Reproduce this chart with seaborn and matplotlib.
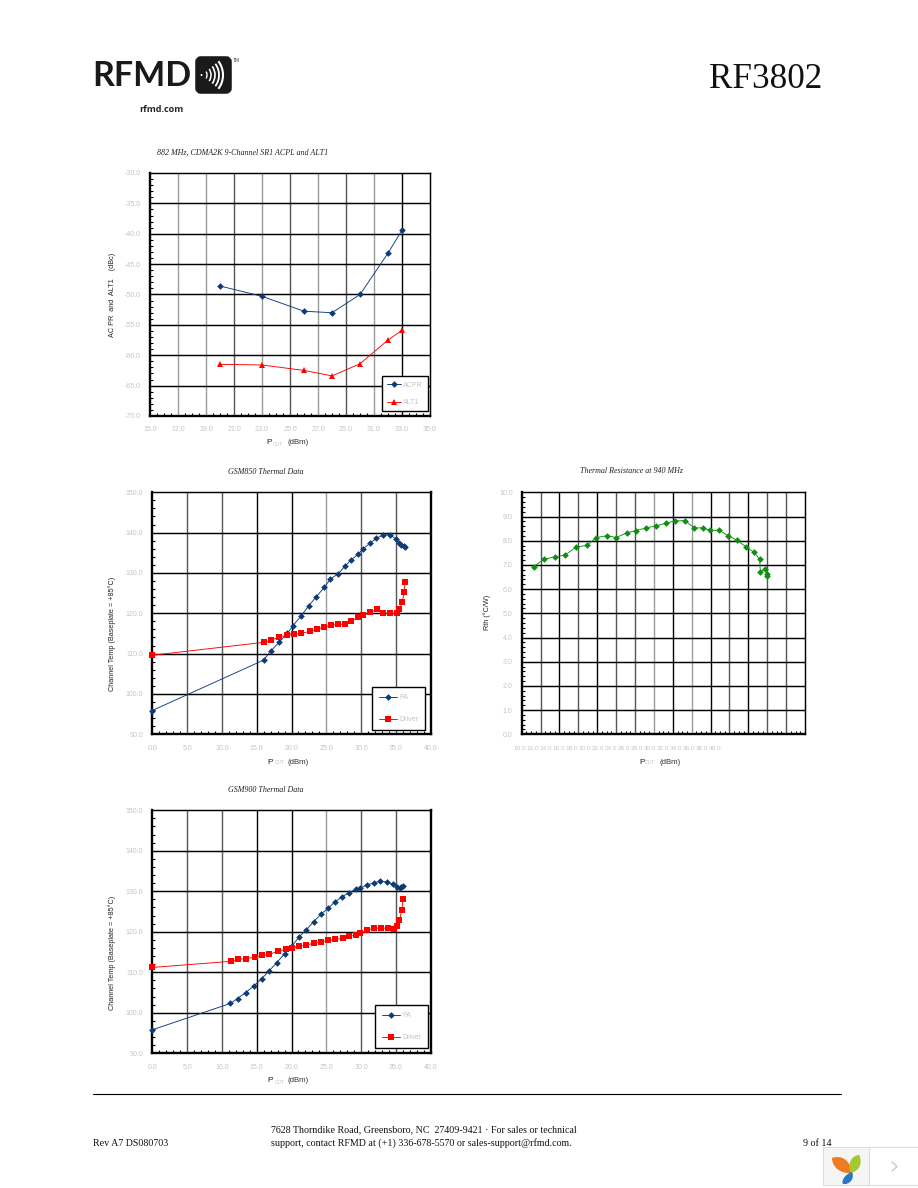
import numpy as np
import pandas as pd
import matplotlib
matplotlib.use("Agg")
import matplotlib.pyplot as plt
import seaborn as sns
from matplotlib.patches import FancyBboxPatch, Rectangle, PathPatch, Arc, Circle
from matplotlib.path import Path

W, H = 918, 1188

# ---- data ----
acp_x = [20, 23, 26, 28, 30, 32, 33]
acpr_y = [-48.6, -50.3, -52.75, -53.0, -50.0, -43.2, -39.4]
alt1_y = [-61.5, -61.6, -62.5, -63.4, -61.4, -57.5, -55.9]

g850_pa_x = [0, 16.0, 17.05, 18.2, 19.4, 20.2, 21.4, 22.5, 23.5, 24.7, 25.6, 26.7, 27.7, 28.6, 29.6,
             30.3, 31.3, 32.2, 33.2, 34.2, 35.0, 35.5, 35.8, 36.1, 36.3]
g850_pa_y = [95.9, 108.4, 110.7, 112.8, 115, 116.9, 119.4, 121.9, 124, 126.4, 128.5, 129.8, 131.7, 133.3, 134.7,
             136, 137.4, 138.6, 139.4, 139.5, 138.4, 137.4, 136.9, 136.6, 136.4]
g850_dr_x = [0, 16, 17.1, 18.25, 19.4, 20.3, 21.4, 22.6, 23.6, 24.7, 25.7, 26.7, 27.7, 28.6, 29.6,
             30.3, 31.3, 32.3, 33.2, 34.2, 35.1, 35.5, 35.9, 36.2, 36.3]
g850_dr_y = [109.6, 112.8, 113.3, 114.2, 114.5, 114.8, 115, 115.5, 116, 116.6, 117, 117.3, 117.3, 118, 119,
             119.5, 120.2, 121, 120, 120, 120, 121, 122.7, 125.2, 127.7]

rth_x = [11.27, 12.36, 13.5, 14.6, 15.75, 16.9, 17.9, 19.07, 20, 21.1, 22.1, 23.2, 24.2, 25.3, 26.2, 27.3,
         28.25, 29.2, 29.9, 30.9, 31.85, 32.8, 33.8, 34.6, 35.2, 35.27, 35.76, 35.94, 35.94]
rth_y = [6.93, 7.23, 7.33, 7.41, 7.73, 7.81, 8.13, 8.21, 8.13, 8.32, 8.42, 8.53, 8.61, 8.72, 8.82, 8.83,
         8.53, 8.53, 8.43, 8.43, 8.21, 8.02, 7.73, 7.52, 7.23, 6.72, 6.82, 6.61, 6.53]

g900_pa_x = [0, 11.2, 12.25, 13.4, 14.6, 15.7, 16.8, 17.9, 19, 20, 21.1, 22.1, 23.2, 24.2, 25.3, 26.2, 27.3, 28.2,
             29.2, 29.9, 30.8, 31.8, 32.7, 33.7, 34.6, 35.2, 35.6, 35.8, 36]
g900_pa_y = [95.8, 102.3, 103.5, 105, 106.6, 108.4, 110.4, 112.4, 114.6, 116.4, 118.7, 120.5, 122.5, 124.3, 125.9,
             127.3, 128.7, 129.6, 130.5, 130.7, 131.6, 132, 132.5, 132.3, 131.7, 131, 130.8, 131, 131.2]
g900_dr_x = [0, 11.25, 12.35, 13.5, 14.7, 15.7, 16.8, 18, 19.2, 20, 21.1, 22.1, 23.2, 24.2, 25.3, 26.3, 27.4, 28.2,
             29.2, 29.9, 30.9, 31.8, 32.8, 33.9, 34.7, 35.2, 35.5, 35.85, 36]
g900_dr_y = [111.2, 112.7, 113.2, 113.4, 113.7, 114.2, 114.4, 115.2, 115.7, 115.9, 116.4, 116.7, 117.2, 117.5, 117.9,
             118.1, 118.4, 118.9, 119.1, 119.6, 120.4, 120.9, 120.9, 120.9, 120.6, 121.4, 122.8, 125.3, 128]

rth_tick_labels = [f"{v:.1f}" for v in range(10, 42, 2)]
NAVY, RED, GREEN = "#0c3b78", "#ff0000", "#0f8f0f"
TICKC = "#c4c4c4"

sns.set_style("white")
plt.rcParams["font.family"] = ["Liberation Sans", "DejaVu Sans"]
fig = plt.figure(figsize=(W / 100, H / 100), dpi=100, facecolor="white")

page = fig.add_axes([0, 0, 1, 1], zorder=5)
page.set_xlim(0, W); page.set_ylim(H, 0); page.axis("off"); page.patch.set_alpha(0)


def make_axes(l, t, r, b):
    return fig.add_axes([l / W, 1 - b / H, (r - l) / W, (b - t) / H])


def style(ax, xlim, ylim, xmaj, ymaj, xmin, ymin, vcolors, xlabels=True):
    ax.set_xlim(*xlim); ax.set_ylim(*ylim)
    xt = np.arange(xlim[0], xlim[1] + 1e-6, xmaj)
    yt = np.arange(ylim[0], ylim[1] + 1e-6, ymaj)
    ax.set_xticks(xt); ax.set_yticks(yt)
    ax.set_xticks(np.arange(xlim[0], xlim[1] + 1e-6, xmin), minor=True)
    ax.set_yticks(np.arange(ylim[0], ylim[1] + 1e-6, ymin), minor=True)
    ax.set_xticklabels([f"{v:.1f}" for v in xt] if xlabels else [])
    ax.set_yticklabels([f"{v:.1f}" for v in yt])
    ax.tick_params(which="major", length=0, labelsize=5, labelcolor=TICKC)
    ax.tick_params(axis="x", which="major", pad=7.5)
    ax.tick_params(axis="y", which="major", pad=6.5)
    ax.tick_params(which="minor", direction="in", length=2.2, width=0.8, color="black",
                   bottom=True, left=True)
    for v, c in zip(xt[1:-1], vcolors):
        ax.axvline(v, color=c, lw=1.0, zorder=1)
    for v in yt[1:-1]:
        ax.axhline(v, color="black", lw=1.05, zorder=1)
    for s in ("top", "right"):
        ax.spines[s].set_visible(True); ax.spines[s].set_color("black"); ax.spines[s].set_linewidth(1.05)
    for s in ("left", "bottom"):
        ax.spines[s].set_visible(True); ax.spines[s].set_color("black"); ax.spines[s].set_linewidth(1.7)
    ax.set_xlabel(""); ax.set_ylabel("")


def two_series(ax, a_name, ax_vals, ay_vals, b_name, bx_vals, by_vals, marks, b_size=3.9):
    df = pd.DataFrame({
        "x": list(ax_vals) + list(bx_vals),
        "y": list(ay_vals) + list(by_vals),
        "series": [a_name] * len(ax_vals) + [b_name] * len(bx_vals)})
    sns.lineplot(data=df[df.series == a_name], x="x", y="y", color=NAVY, marker=marks[0], markersize=3.4,
                 markeredgewidth=0, linewidth=0.65, sort=False, estimator=None, ax=ax, zorder=3, label=a_name,
                 clip_on=False)
    sns.lineplot(data=df[df.series == b_name], x="x", y="y", color=RED, marker=marks[1], markersize=b_size,
                 markeredgewidth=0, linewidth=0.65, sort=False, estimator=None, ax=ax, zorder=3, label=b_name,
                 clip_on=False)


def legend(ax, left, bottom, ls=2.2, bp=1.0, hl=2.6):
    bb = ax.get_position()
    x0 = (left / W - bb.x0) / bb.width
    y0 = ((1 - bottom / H) - bb.y0) / bb.height
    leg = ax.legend(loc="lower left", bbox_to_anchor=(x0, y0), borderaxespad=0, fontsize=5,
                    labelspacing=ls, borderpad=bp, handlelength=hl, handletextpad=0.3,
                    frameon=True, fancybox=False, framealpha=1, facecolor="white", edgecolor="black")
    leg.get_frame().set_linewidth(1.0)
    leg.set_zorder(6)
    for t_ in leg.get_texts():
        t_.set_color(TICKC)


def xlab(xp, xo, xd, y):
    page.text(xp, y, "P", fontsize=6, color="#222222", ha="left", va="center")
    page.text(xo, y + 1, "OUT", fontsize=3.5, color=TICKC, ha="left", va="center")
    page.text(xd, y, "(dBm)", fontsize=5.6, color="#333333", ha="left", va="center")


def ylab(x, y, s):
    page.text(x, y, s, fontsize=5.25, color="#222222", rotation=90, ha="center", va="center")


def title(x, y, s, ha="center"):
    page.text(x, y, s, fontsize=5.8, color="#222222", style="italic", family="Liberation Serif", ha=ha, va="center")


G, D, K = "#9a9a9a", "#555555", "#000000"

# ---- chart 1 ----
ax1 = make_axes(150, 173, 430, 416)
style(ax1, (15, 35), (-70, -30), 2, 5, 0.5, 1, [G, G, D, G, D, G, D, G, K])
two_series(ax1, "ACPR", acp_x, acpr_y, "ALT1", acp_x, alt1_y, ("D", "^"))
ax1.set_xlabel(""); ax1.set_ylabel("")
legend(ax1, 381.7, 411.3, ls=1.5, bp=0.77, hl=2.06)
title(157, 153, "882 MHz, CDMA2K 9-Channel SR1 ACPL and ALT1", ha="left")
xlab(266, 273, 287, 443)
ylab(112, 295, "AC PR  and  ALT1    (dBc)")

# ---- chart 2 ----
ax2 = make_axes(152.3, 492.3, 430.7, 734.3)
style(ax2, (0, 40), (90, 150), 5, 10, 1, 2, [D, D, K, K, G, D, D])
two_series(ax2, "PA", g850_pa_x, g850_pa_y, "Driver", g850_dr_x, g850_dr_y, ("D", "s"))
ax2.set_xlabel(""); ax2.set_ylabel("")
ax2.spines["right"].set_linewidth(1.7)
legend(ax2, 372.3, 730.3)
title(266, 472, "GSM850 Thermal Data")
xlab(267, 275, 288, 762)
ylab(112, 634, "Channel Temp (Baseplate = +85\u00b0C)")

# ---- chart 3 ----
ax3 = make_axes(521.7, 492.3, 805, 734.3)
style(ax3, (10, 40), (0, 10), 2, 1, 0.5, 0.2,
      [D, K, D, K, D, D, G, K, G, K, D, K, D, D], xlabels=False)
ax3_df = pd.DataFrame({"x": rth_x, "y": rth_y})
sns.lineplot(data=ax3_df, x="x", y="y", color=GREEN, marker="D", markersize=3.4, markeredgewidth=0,
             linewidth=0.65, sort=False, estimator=None, ax=ax3, zorder=3)
ax3.set_xlabel(""); ax3.set_ylabel("")
for i, lab in enumerate(rth_tick_labels):
    page.text(470 + (150 + 39 * i) / 3, 748.5, lab, fontsize=4.6, color=TICKC, ha="center", va="center")
title(631, 471, "Thermal Resistance at 940 MHz")
xlab(639, 645, 660, 762)
ylab(487, 612, "Rth (\u00b0C/W)")

# ---- chart 4 ----
ax4 = make_axes(152.3, 810.3, 430.7, 1053.3)
style(ax4, (0, 40), (90, 150), 5, 10, 1, 2, [D, D, K, K, G, D, D])
two_series(ax4, "PA", g900_pa_x, g900_pa_y, "Driver", g900_dr_x, g900_dr_y, ("D", "s"))
ax4.set_xlabel(""); ax4.set_ylabel("")
ax4.spines["right"].set_linewidth(1.7)
legend(ax4, 375.3, 1048.3)
title(266, 790, "GSM900 Thermal Data")
xlab(267, 275, 288, 1081)
ylab(112, 953, "Channel Temp (Baseplate = +85\u00b0C)")

# ---- page furniture ----
page.text(92, 76, "RFMD", fontsize=24.5, fontweight="bold", family="Lato", color="#1a1a1a", ha="left", va="center")
page.text(139, 110, "rfmd.com", fontsize=6.6, fontweight="bold", family="Open Sans", color="#222222", ha="left", va="center")
page.add_patch(FancyBboxPatch((198, 59), 31, 32, boxstyle="round,pad=0,rounding_size=3", mutation_aspect=1,
                              fc="#1a1a1a", ec="#1a1a1a", lw=4))
page.add_patch(Circle((201.5, 75), 1.0, fc="white", ec="none"))
for r, lw in zip((5, 9, 13, 17, 21), (1, 1.1, 1.2, 1.3, 1.5)):
    page.add_patch(Arc((202, 75), 2 * r, 2 * r + 2, theta1=-40, theta2=40, color="white", lw=lw))
page.text(233, 60, "TM", fontsize=3.5, color="#444444", ha="left", va="center")
page.text(709, 79, "RF3802", fontsize=25.3, family="Liberation Serif", color="#111111", ha="left", va="center")

page.plot([93, 841], [1094, 1094], color="black", lw=0.8)
foot = dict(fontsize=7.2, family="Liberation Serif", color="#111111", ha="left", va="center")
page.text(93, 1143, "Rev A7 DS080703", **foot)
page.text(271, 1130, "7628 Thorndike Road, Greensboro, NC  27409-9421 \u00b7 For sales or technical", **foot)
page.text(271, 1143, "support, contact RFMD at (+1) 336-678-5570 or sales-support@rfmd.com.", **foot)
page.text(803, 1143, "9 of 14", **foot)

page.add_patch(Rectangle((823, 1147), 45.5, 38, fc="#f5f5f5", ec="#dddddd", lw=0.8))
page.add_patch(Rectangle((868.5, 1147), 50, 38, fc="white", ec="#dddddd", lw=0.8))
page.plot([892, 897, 892], [1162, 1166.5, 1171], color="#c4c4c4", lw=0.9)


def petal(p0, c1, c2, p1, c3, c4, color):
    verts = [p0, c1, c2, p1, c3, c4, p0]
    codes = [Path.MOVETO] + [Path.CURVE4] * 6
    page.add_patch(PathPatch(Path(verts, codes), fc=color, ec="none"))


petal((832, 1158), (842, 1154), (852, 1162), (851, 1173), (842, 1174), (832, 1168), "#ee7d22")
petal((851, 1173), (846, 1163), (853, 1155), (859, 1155), (862, 1160), (862, 1170), "#a6c832")
petal((852, 1172), (845, 1174), (841, 1181), (843, 1184), (850, 1185), (855, 1178), "#2a78c4")

fig.savefig("out.png", dpi=100, facecolor="white")
